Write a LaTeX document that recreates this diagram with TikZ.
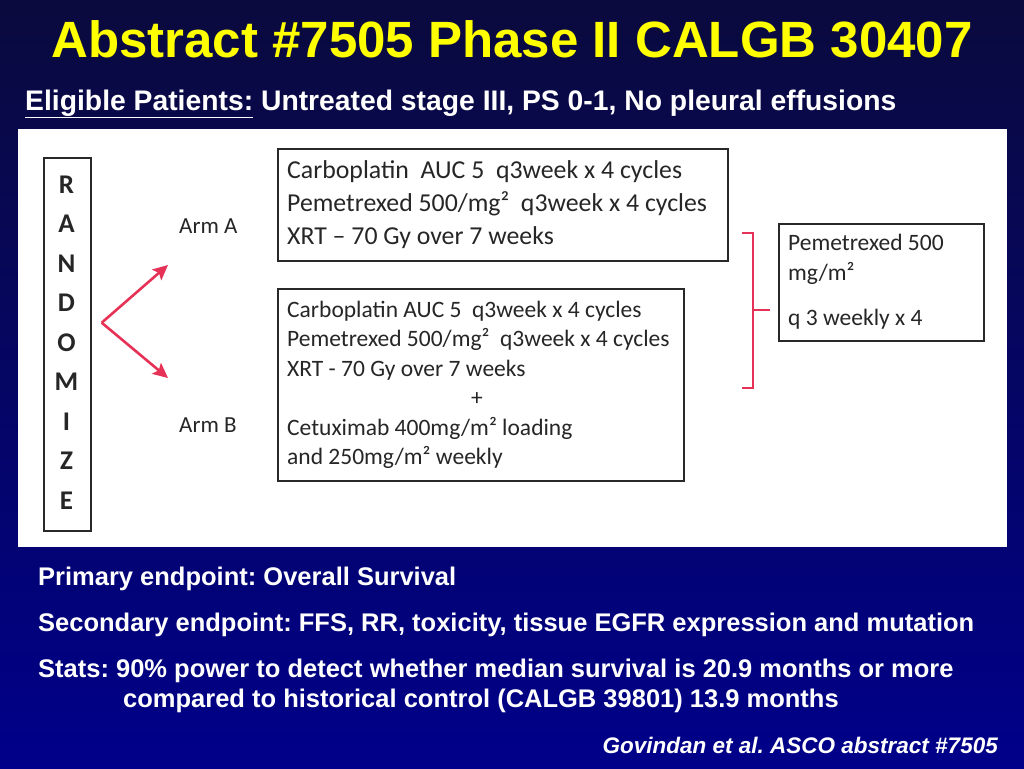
\documentclass[tikz,border=0pt]{standalone}
\usepackage{fontspec}
\setmainfont{Liberation Sans}
\newfontfamily\calfont{Carlito}
\usetikzlibrary{arrows.meta}
\definecolor{bgtop}{RGB}{10,10,62}
\definecolor{bgbot}{RGB}{0,0,138}
\definecolor{ttl}{RGB}{255,255,0}
\definecolor{arrowred}{RGB}{230,50,86}
\definecolor{boxline}{RGB}{40,40,40}
\definecolor{boxtext}{RGB}{38,38,38}
\tikzset{
  slidetext/.style={anchor=base west, inner sep=0pt, text=white, font=\fontsize{25.5}{30}\selectfont\bfseries},
  armbox/.style={draw=boxline, line width=2pt, anchor=north west, inner sep=0pt},
  boxline/.style={anchor=base west, inner sep=0pt, text=boxtext},
  fonta/.style={font=\calfont\fontsize{25.8}{30}\selectfont},
  fontb/.style={font=\calfont\fontsize{23.5}{28}\selectfont},
  letter/.style={anchor=base, inner sep=0pt, text=boxtext, font=\calfont\bfseries\fontsize{27}{30}\selectfont},
  redarrow/.style={draw=arrowred, line width=2.6pt, -{Stealth[length=15pt,width=14pt,inset=3pt]}},
  redbrace/.style={draw=arrowred, line width=2.6pt}
}
\begin{document}
\frenchspacing
\begin{tikzpicture}[x=1pt,y=-1pt]
\useasboundingbox (0,0) rectangle (1024,768);
\begin{scope}[y=1pt]
\shade[top color=bgtop, bottom color=bgbot] (0,-768) rectangle (1024,0);
\end{scope}
% title
\node[anchor=base, inner sep=0pt, text=ttl, font=\fontsize{51}{60}\selectfont\bfseries] (title) at (512,57) {Abstract \#7505 Phase II CALGB 30407};
\node[anchor=base west, inner sep=0pt, text=white, font=\fontsize{28.3}{34}\selectfont\bfseries] (elig) at (25,110) {\underline{Eligible Patients:} Untreated stage III, PS 0-1, No pleural effusions};
% white panel
\fill[white] (18,129) rectangle (1007,547);
% randomize box
\node[armbox, minimum width=47pt, minimum height=373pt] (rand) at (43,157) {};
\foreach \L [count=\i from 0] in {R,A,N,D,O,M,I,Z,E}{
  \node[letter] (let\i) at (66.5,{193+39.5*\i}) {\L};
}
% arm labels
\node[boxline, font=\calfont\fontsize{23}{28}\selectfont] (arma) at (179,233) {Arm A};
\node[boxline, font=\calfont\fontsize{23}{28}\selectfont] (armb) at (179,432) {Arm B};
% arrows
\coordinate (vtx) at (101.7,322.7);
\coordinate (tipa) at (168,265);
\coordinate (tipb) at (168,378);
\draw[redarrow, line join=round] (vtx) -- (tipa);
\draw[redarrow, line join=round] (vtx) -- (tipb);
% box A
\node[armbox, minimum width=450pt, minimum height=112pt] (boxa) at (277,148) {};
\node[boxline, fonta] (a1) at (287,178) {Carboplatin\ \ AUC 5\ \ q3week x 4 cycles};
\node[boxline, fonta] (a2) at (287,211.5) {Pemetrexed 500/mg²\ \ q3week x 4 cycles};
\node[boxline, fonta] (a3) at (287,244) {XRT – 70 Gy over 7 weeks};
% box B
\node[armbox, minimum width=406pt, minimum height=192pt] (boxb) at (277,288) {};
\node[boxline, fontb] (b1) at (287,317) {Carboplatin AUC 5\ \ q3week x 4 cycles};
\node[boxline, fontb] (b2) at (287,346.5) {Pemetrexed 500/mg²\ \ q3week x 4 cycles};
\node[boxline, fontb] (b3) at (287,376) {XRT - 70 Gy over 7 weeks};
\node[anchor=base, inner sep=0pt, text=boxtext, fontb] (bplus) at (477,405) {+};
\node[boxline, fontb] (b5) at (287,435) {Cetuximab 400mg/m² loading};
\node[boxline, fontb] (b6) at (287,464.5) {and 250mg/m² weekly};
% brace
\coordinate (brt) at (742,233);
\coordinate (brb) at (742,388);
\coordinate (brmid) at (770,310);
\draw[redbrace] (brt) -- (753,233) -- (753,388) -- (brb);
\draw[redbrace] (753,310) -- (brmid);
% right box
\node[armbox, minimum width=205pt, minimum height=117pt] (boxc) at (778,223) {};
\node[boxline, fontb] (c1) at (788,250) {Pemetrexed 500};
\node[boxline, fontb] (c2) at (788,280) {mg/m²};
\node[boxline, fontb] (c3) at (788,325) {q 3 weekly x 4};
% bottom text
\node[slidetext] (prim) at (38,585) {Primary endpoint: Overall Survival};
\node[slidetext] (sec) at (38,631) {Secondary endpoint: FFS, RR, toxicity, tissue EGFR expression and mutation};
\node[slidetext] (stats) at (38,677) {Stats: 90\% power to detect whether median survival is 20.9 months or more};
\node[slidetext] (stats2) at (123,707) {compared to historical control (CALGB 39801) 13.9 months};
\node[anchor=base east, inner sep=0pt, text=white, font=\fontsize{22.5}{27}\selectfont\bfseries\itshape] (cite) at (998,753) {Govindan et al. ASCO abstract \#7505};
\end{tikzpicture}
\end{document}
